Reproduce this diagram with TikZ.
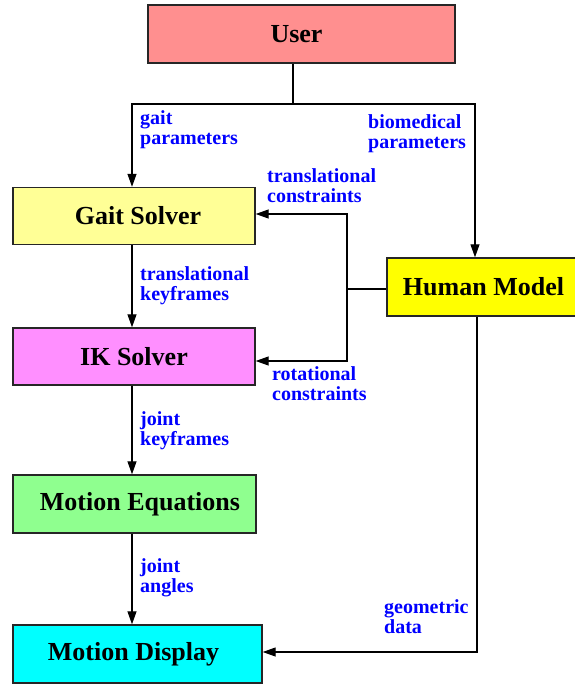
\documentclass[tikz,border=0pt]{standalone}
\usepackage{fontspec}
\setmainfont{Liberation Serif}
\usetikzlibrary{arrows.meta}
\definecolor{cuser}{RGB}{255,143,143}
\definecolor{cgait}{RGB}{255,255,150}
\definecolor{cik}{RGB}{255,143,255}
\definecolor{cmeq}{RGB}{143,255,143}
\definecolor{cmdisp}{RGB}{0,255,255}
\definecolor{chuman}{RGB}{255,255,0}
\newcommand{\twoline}[2]{\vtop{\baselineskip=20pt\hbox{#1}\hbox{#2}}}
\tikzset{
  boxnode/.style={draw=black!85, line width=1.4pt, rectangle, inner sep=0pt,
    font=\fontsize{26}{27}\selectfont\bfseries},
  lbl/.style={anchor=base west, inner sep=0pt, text=blue,
    font=\fontsize{20}{20}\selectfont\bfseries},
  arr/.style={line width=1.2pt, -{Triangle[length=13pt,width=9pt]}},
  ln/.style={line width=1.2pt}
}
\begin{document}
\begin{tikzpicture}[x=1pt,y=-1pt]
\useasboundingbox (0,0) rectangle (574,685);
\node[boxnode, fill=cuser, minimum width=307pt, minimum height=58pt] (user) at (301.5,34) {User\hspace*{10pt}};
\node[boxnode, fill=cgait, minimum width=242pt, minimum height=57pt] (gait) at (134,216) {\hspace*{8pt}Gait Solver};
\node[boxnode, fill=cik, minimum width=242pt, minimum height=57pt] (ik) at (134,356.5) {IK Solver};
\node[boxnode, fill=cmeq, minimum width=243pt, minimum height=58pt] (meq) at (134.5,504) {\hspace*{11pt}Motion Equations};
\node[boxnode, fill=cmdisp, minimum width=249pt, minimum height=58pt] (mdisp) at (137.5,654) {Motion Display\hspace*{8pt}};
\node[boxnode, fill=chuman, minimum width=193pt, minimum height=58pt] (human) at (483.5,287) {Human Model};

\coordinate (ub) at (293,104);
\coordinate (hj) at (347,289);

\draw[ln] (ub |- user.south) -- (ub);
\draw[arr] (ub) -| ([xshift=-2pt]gait.north);
\draw[arr] (ub) -| ([xshift=-8.5pt]human.north);
\draw[arr] ([xshift=-2pt]gait.south) -- ([xshift=-2pt]ik.north);
\draw[arr] ([xshift=-2pt]ik.south) -- ([xshift=-2.5pt]meq.north);
\draw[arr] ([xshift=-2.5pt]meq.south) -- ([xshift=-5.5pt]mdisp.north);
\draw[ln] ([yshift=-2pt]human.west) -- (hj);
\draw[arr] (hj) |- ([yshift=2pt]gait.east);
\draw[arr] (hj) |- ([yshift=-4.5pt]ik.east);
\draw[arr] ([xshift=-6.5pt]human.south) |- ([yshift=2pt]mdisp.east);

\node[lbl] (l1) at (140,124.5) {\twoline{gait}{parameters}};
\node[lbl] (l2) at (368,128) {\twoline{biomedical}{parameters}};
\node[lbl] (l3) at (267,182) {\twoline{translational}{constraints}};
\node[lbl] (l4) at (140,280) {\twoline{translational}{keyframes}};
\node[lbl] (l5) at (272,380) {\twoline{rotational}{constraints}};
\node[lbl] (l6) at (140,425) {\twoline{joint}{keyframes}};
\node[lbl] (l7) at (140,572) {\twoline{joint}{angles}};
\node[lbl] (l8) at (384,613) {\twoline{geometric}{data}};
\end{tikzpicture}
\end{document}
